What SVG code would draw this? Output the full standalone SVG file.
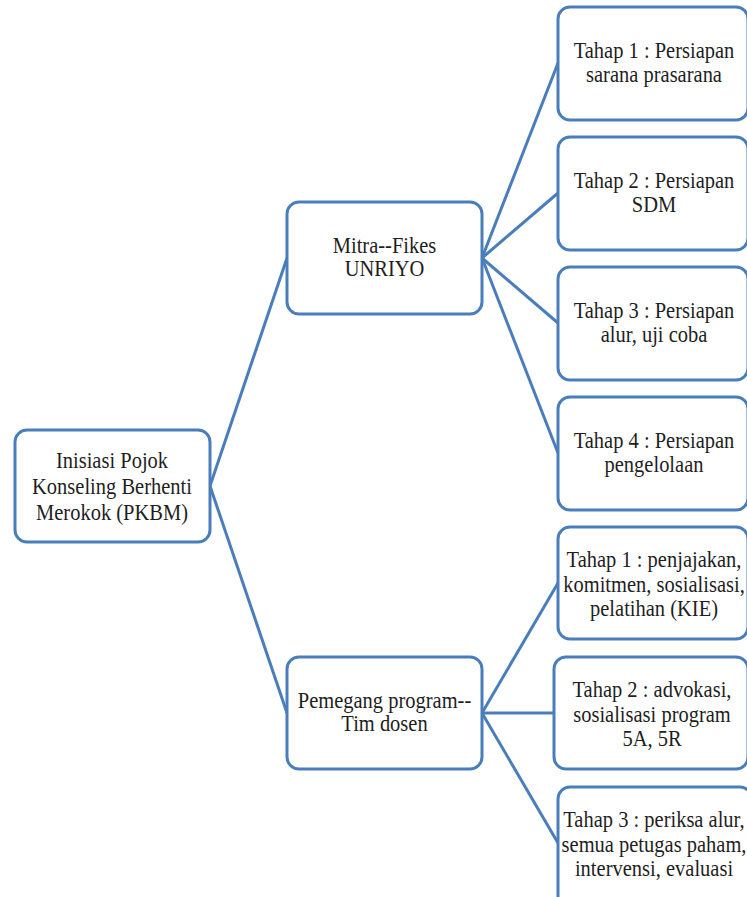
<svg xmlns="http://www.w3.org/2000/svg" width="747" height="897" viewBox="0 0 747 897">
<style>
.box{fill:#ffffff;stroke:#4a7ebb;stroke-width:3}
.con{stroke:#4a7ebb;stroke-width:3;fill:none}
.t{font-family:"Liberation Serif","Times New Roman",serif;font-size:20.5px;fill:#1e1e1e;text-anchor:middle}
</style>
<rect width="747" height="897" fill="#ffffff"/>
<g id="connectors">
<line class="con" x1="210" y1="486" x2="287" y2="258"/>
<line class="con" x1="210" y1="486" x2="287" y2="713"/>
<line class="con" x1="482" y1="258" x2="558" y2="63"/>
<line class="con" x1="482" y1="258" x2="558" y2="193"/>
<line class="con" x1="482" y1="258" x2="558" y2="323"/>
<line class="con" x1="482" y1="258" x2="558" y2="453"/>
<line class="con" x1="482" y1="713" x2="558" y2="583"/>
<line class="con" x1="482" y1="713" x2="558" y2="713"/>
<line class="con" x1="482" y1="713" x2="558" y2="843"/>
</g>
<g id="root">
<rect class="box" x="15" y="430" width="195" height="112" rx="12"/>
<text class="t" transform="translate(112 486) scale(1 1.12)"><tspan x="0" y="-16">Inisiasi Pojok</tspan><tspan x="0" y="7.2">Konseling Berhenti</tspan><tspan x="0" y="30.4">Merokok (PKBM)</tspan></text>
</g>
<g id="mitra">
<rect class="box" x="287" y="202" width="195" height="112" rx="12"/>
<text class="t" transform="translate(384.5 258) scale(1 1.12)"><tspan x="0" y="-4.9">Mitra--Fikes</tspan><tspan x="0" y="16.5">UNRIYO</tspan></text>
</g>
<g id="pemegang">
<rect class="box" x="287" y="657" width="195" height="112" rx="12"/>
<text class="t" transform="translate(384.5 713) scale(1 1.12)"><tspan x="0" y="-4.9">Pemegang program--</tspan><tspan x="0" y="16.5">Tim dosen</tspan></text>
</g>
<g id="m1">
<rect class="box" x="558" y="7" width="190" height="113" rx="12"/>
<text class="t" transform="translate(654 63.5) scale(1 1.12)"><tspan x="0" y="-4.9">Tahap 1 : Persiapan</tspan><tspan x="0" y="16.5">sarana prasarana</tspan></text>
</g>
<g id="m2">
<rect class="box" x="558" y="137" width="190" height="113" rx="12"/>
<text class="t" transform="translate(654 193.5) scale(1 1.12)"><tspan x="0" y="-4.9">Tahap 2 : Persiapan</tspan><tspan x="0" y="16.5">SDM</tspan></text>
</g>
<g id="m3">
<rect class="box" x="558" y="267" width="190" height="113" rx="12"/>
<text class="t" transform="translate(654 323.5) scale(1 1.12)"><tspan x="0" y="-4.9">Tahap 3 : Persiapan</tspan><tspan x="0" y="16.5">alur, uji coba</tspan></text>
</g>
<g id="m4">
<rect class="box" x="558" y="397" width="190" height="113" rx="12"/>
<text class="t" transform="translate(654 453.5) scale(1 1.12)"><tspan x="0" y="-4.9">Tahap 4 : Persiapan</tspan><tspan x="0" y="16.5">pengelolaan</tspan></text>
</g>
<g id="p1">
<rect class="box" x="558" y="527" width="190" height="112" rx="12"/>
<text class="t" transform="translate(654 583) scale(1 1.12)"><tspan x="0" y="-14.3">Tahap 1 : penjajakan,</tspan><tspan x="0" y="7.6">komitmen, sosialisasi,</tspan><tspan x="0" y="29.5">pelatihan (KIE)</tspan></text>
</g>
<g id="p2">
<rect class="box" x="554" y="657" width="194" height="112" rx="12"/>
<text class="t" transform="translate(652 713) scale(1 1.12)"><tspan x="0" y="-14.3">Tahap 2 : advokasi,</tspan><tspan x="0" y="7.6">sosialisasi program</tspan><tspan x="0" y="29.5">5A, 5R</tspan></text>
</g>
<g id="p3">
<rect class="box" x="558" y="787" width="194" height="125" rx="12"/>
<text class="t" transform="translate(654 843) scale(1 1.12)"><tspan x="0" y="-14.3">Tahap 3 : periksa alur,</tspan><tspan x="0" y="7.6">semua petugas paham,</tspan><tspan x="0" y="29.5">intervensi, evaluasi</tspan></text>
</g>
</svg>
